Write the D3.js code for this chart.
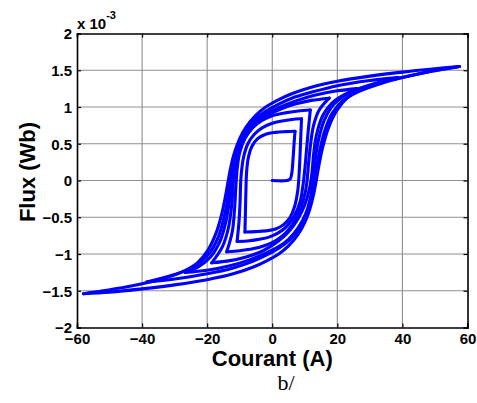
<!DOCTYPE html>
<html>
<head>
<meta charset="utf-8">
<script src="https://cdn.jsdelivr.net/npm/d3@7"></script>
<style>
  html, body { margin: 0; padding: 0; background: #fff; }
  svg { display: block; }
</style>
</head>
<body>
<svg id="chart" width="477" height="403"></svg>
<script>
// Axis ticks (current in A, flux in units of 1e-3 Wb)
const xTicks = [-60, -40, -20, 0, 20, 40, 60];
const yTicks = [-2, -1.5, -1, -0.5, 0, 0.5, 1, 1.5, 2];

// Hysteresis trajectory, one array per branch, in the order it is traced:
// [current (A), flux (1e-3 Wb)]
const initialRise = [[0,0],[4.5,0],[5.5,0.02],[6.0,0.1],[6.4,0.3],[6.7,0.5],[7,0.67]];
const desc1 = [[7,0.67],[4,0.665],[1,0.655],[-2,0.63],[-4.5,0.57],[-6.3,0.46],[-7.4,0.3],[-7.9,0.1],[-8.1,-0.15],[-8.25,-0.45],[-8.4,-0.7]];
const asc1 = [[-8.4,-0.7],[-5,-0.695],[-2,-0.685],[1,-0.66],[3.5,-0.6],[5.5,-0.5],[6.9,-0.35],[7.8,-0.15],[8.2,0.05],[8.5,0.3],[8.75,0.58],[9,0.84]];
const desc2 = [[9,0.84],[6,0.83],[3,0.81],[0,0.78],[-3,0.72],[-5.5,0.63],[-7.5,0.5],[-8.8,0.32],[-9.6,0.05],[-9.9,-0.3],[-10.2,-0.55],[-10.8,-0.83]];
const asc2 = [[-10.8,-0.83],[-7,-0.82],[-4,-0.8],[-1,-0.77],[2,-0.71],[4.5,-0.62],[6.8,-0.48],[8.5,-0.3],[9.4,-0.08],[10,0.15],[10.5,0.4],[11,0.65],[11.7,0.96]];
const desc3 = [[11.7,0.96],[8,0.945],[4,0.92],[0,0.88],[-3,0.82],[-6,0.72],[-8.3,0.58],[-10,0.38],[-10.8,0.15],[-11.2,-0.1],[-11.6,-0.4],[-12.3,-0.7],[-14,-0.97]];
const asc3 = [[-14,-0.97],[-10,-0.955],[-6,-0.93],[-2,-0.88],[1,-0.82],[4,-0.72],[6.6,-0.57],[8.7,-0.38],[10.2,-0.15],[10.7,0],[11.2,0.25],[11.8,0.5],[12.7,0.75],[14.3,0.95],[17.5,1.12]];
const desc4 = [[17.5,1.12],[12,1.09],[7,1.04],[3,0.98],[0,0.92],[-3,0.84],[-6,0.72],[-8.5,0.57],[-10.5,0.38],[-11.6,0.15],[-12,-0.05],[-12.5,-0.35],[-13.5,-0.65],[-15.3,-0.9],[-18.6,-1.12]];
const asc4 = [[-18.6,-1.12],[-13,-1.09],[-8,-1.04],[-4,-0.98],[-1,-0.91],[2,-0.82],[5,-0.7],[7.8,-0.53],[10,-0.33],[11.5,-0.1],[12.2,0.1],[12.7,0.35],[13.6,0.62],[15.5,0.88],[19,1.08],[26,1.25]];
const desc5 = [[26,1.25],[20,1.22],[13,1.16],[7,1.08],[2,0.99],[-2,0.9],[-5,0.8],[-8,0.64],[-10.3,0.45],[-11.8,0.22],[-12.5,0],[-13.1,-0.25],[-14.2,-0.55],[-16,-0.82],[-19,-1.04],[-22.5,-1.17],[-26.8,-1.25]];
const asc5 = [[-26.8,-1.25],[-20,-1.22],[-13,-1.16],[-7,-1.08],[-2,-0.99],[2,-0.9],[5,-0.8],[8,-0.64],[10.3,-0.45],[11.8,-0.22],[12.5,0],[13.1,0.25],[14.2,0.55],[16,0.82],[19,1.04],[24,1.2],[30,1.3],[38.6,1.4]];
const desc6 = [[38.6,1.4],[30,1.36],[20,1.29],[12,1.2],[6,1.12],[2,1.04],[-2,0.94],[-5,0.84],[-8,0.68],[-10.5,0.48],[-12,0.25],[-12.9,0.02],[-13.6,-0.22],[-14.8,-0.5],[-16.6,-0.77],[-19.5,-1.0],[-24,-1.17],[-30,-1.28],[-38.6,-1.38]];
const asc6 = [[-38.6,-1.38],[-30,-1.34],[-20,-1.27],[-12,-1.19],[-6,-1.1],[-2,-1.02],[2,-0.92],[5,-0.82],[8,-0.67],[10.5,-0.47],[12,-0.25],[13,0],[13.8,0.22],[14.8,0.45],[16.3,0.7],[18.5,0.92],[21.5,1.08],[26,1.2],[32,1.3],[40,1.4],[48,1.48],[57.5,1.55]];
const desc7 = [[57.5,1.55],[50,1.52],[40,1.475],[30,1.42],[20,1.35],[12,1.27],[6,1.18],[2,1.1],[-2,1.0],[-5,0.89],[-8,0.73],[-10,0.57],[-11.6,0.38],[-12.8,0.17],[-13.6,-0.02],[-14.4,-0.22],[-15.6,-0.47],[-17.3,-0.72],[-19.8,-0.95],[-23,-1.12],[-28,-1.25],[-35,-1.35],[-45,-1.45],[-58,-1.54]];
const asc7 = [[-58,-1.54],[-50,-1.52],[-40,-1.475],[-30,-1.42],[-20,-1.35],[-12,-1.27],[-6,-1.18],[-2,-1.1],[2,-1.0],[5,-0.89],[8,-0.73],[10,-0.57],[11.6,-0.38],[12.8,-0.17],[13.6,0.02],[14.4,0.22],[15.6,0.47],[17.3,0.72],[19.8,0.95],[23,1.12],[28,1.25],[35,1.35],[45,1.45],[57.5,1.55]];

const branches = [initialRise, desc1, asc1, desc2, asc2, desc3, asc3, desc4, asc4,
                  desc5, asc5, desc6, asc6, desc7, asc7];

const svg = d3.select("#chart");
const plotLeft = 77, plotRight = 467.5, plotTop = 33.5, plotBottom = 327.5;

const x = d3.scaleLinear().domain([-60, 60]).range([plotLeft, plotRight]);
const y = d3.scaleLinear().domain([-2, 2]).range([plotBottom, plotTop]);

const boldFont = "'Liberation Sans', Arial, Helvetica, sans-serif";

// grid
const grid = svg.append("g");
grid.selectAll("line.gx").data(xTicks.slice(1, -1)).join("line")
  .attr("x1", d => x(d)).attr("x2", d => x(d))
  .attr("y1", plotTop).attr("y2", plotBottom)
  .attr("stroke", "#8f8f8f").attr("stroke-width", 1.1);
grid.selectAll("line.gy").data(yTicks.slice(1, -1)).join("line")
  .attr("y1", d => y(d)).attr("y2", d => y(d))
  .attr("x1", plotLeft).attr("x2", plotRight)
  .attr("stroke", "#8f8f8f").attr("stroke-width", 1.1);

// hysteresis curve
const line = d3.line()
  .x(d => x(d[0])).y(d => y(d[1]))
  .curve(d3.curveCatmullRom.alpha(0.5));
svg.append("g").selectAll("path").data(branches).join("path")
  .attr("d", line)
  .attr("fill", "none")
  .attr("stroke", "#0000ff")
  .attr("stroke-width", 3.1)
  .attr("stroke-linejoin", "round")
  .attr("stroke-linecap", "round");

// axes (ticks inward, box on all sides)
const tickFmt = d => d3.format("")(d);
const axB = svg.append("g").attr("transform", `translate(0,${plotBottom})`)
  .call(d3.axisBottom(x).tickValues(xTicks).tickSize(-4).tickFormat(tickFmt));
const axT = svg.append("g").attr("transform", `translate(0,${plotTop})`)
  .call(d3.axisTop(x).tickValues(xTicks).tickSize(-4).tickFormat(""));
const axL = svg.append("g").attr("transform", `translate(${plotLeft},0)`)
  .call(d3.axisLeft(y).tickValues(yTicks).tickSize(-4).tickPadding(5).tickFormat(tickFmt));
const axR = svg.append("g").attr("transform", `translate(${plotRight},0)`)
  .call(d3.axisRight(y).tickValues(yTicks).tickSize(-4).tickFormat(""));

[axB, axT, axL, axR].forEach(a => {
  a.select(".domain").attr("stroke", "#000").attr("stroke-width", 1.6);
  a.selectAll(".tick line").attr("stroke", "#000").attr("stroke-width", 1.2);
  a.selectAll(".tick text")
    .attr("fill", "#000")
    .style("font-family", boldFont)
    .style("font-weight", "bold")
    .style("font-size", "15px");
});
axL.selectAll(".tick text").attr("dy", "0.36em");
axB.selectAll(".tick text").attr("y", 16).attr("dy", 0);

// exponent label
const expo = svg.append("text")
  .attr("x", 77).attr("y", 29)
  .style("font-family", boldFont).style("font-weight", "bold").style("font-size", "15px")
  .attr("fill", "#000");
expo.append("tspan").text("x 10");
expo.append("tspan").attr("dy", -10).style("font-size", "11px").text("-3");

// axis titles
svg.append("text")
  .attr("x", (plotLeft + plotRight) / 2).attr("y", 366)
  .attr("text-anchor", "middle")
  .style("font-family", boldFont).style("font-weight", "bold").style("font-size", "22px")
  .attr("fill", "#000")
  .text("Courant (A)");

svg.append("text")
  .attr("transform", `translate(35,172) rotate(-90)`)
  .attr("text-anchor", "middle")
  .style("font-family", boldFont).style("font-weight", "bold").style("font-size", "22px")
  .attr("fill", "#000")
  .text("Flux (Wb)");

// panel caption
svg.append("text")
  .attr("x", 286).attr("y", 390)
  .attr("text-anchor", "middle")
  .style("font-family", "'Liberation Serif', 'Times New Roman', serif")
  .style("font-size", "22px")
  .attr("fill", "#000")
  .text("b/");
</script>
</body>
</html>
